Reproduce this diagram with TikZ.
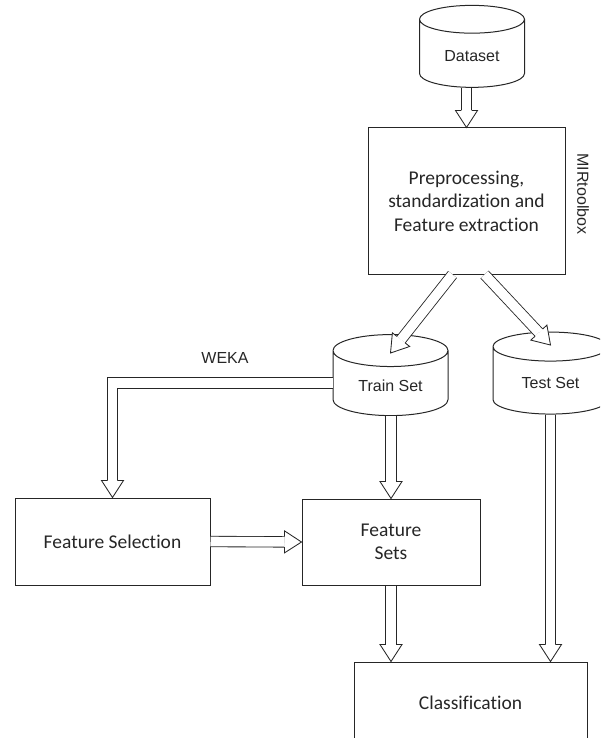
\documentclass[tikz,border=0pt]{standalone}
\usepackage{fontspec}
\setmainfont{Carlito}[Ligatures=NoCommon]
\newfontfamily\arialfont{Liberation Sans}
\usepackage{tikz}
\usetikzlibrary{shapes.geometric, positioning, calc}

% hollow block arrow: head first (#1 = point it comes from, #2 = tip)
\newcommand{\arrowhead}[2]{%
  \coordinate (hb) at ($(#2)!17pt!(#1)$);
  \fill[white] ($(hb)!5.2pt!90:(#2)$) -- ($(hb)!11pt!90:(#2)$) -- (#2) -- ($(hb)!11pt!-90:(#2)$) -- ($(hb)!5.2pt!-90:(#2)$) -- cycle;
  \draw[tipline] ($(hb)!5.2pt!90:(#2)$) -- ($(hb)!11pt!90:(#2)$) -- (#2) -- ($(hb)!11pt!-90:(#2)$) -- ($(hb)!5.2pt!-90:(#2)$);
}
\newcommand{\hollowarrow}[2]{%
  \draw[pipe] (#1) -- ($(#2)!17pt!(#1)$);
  \arrowhead{#1}{#2}
}

\begin{document}
\begin{tikzpicture}[x=1pt, y=-1pt,
    box/.style={draw=black!85, line width=1pt, rectangle, align=center,
      font=\fontsize{19.5}{23.5}\selectfont, text=black!85},
    store/.style={draw=black!85, line width=1pt, cylinder, shape border rotate=90,
      aspect=0.45, font=\arialfont\fontsize{16}{19}\selectfont, text=black!85},
    pipe/.style={draw=black!85, line width=0.85pt, double=white, double distance=9.6pt},
    tipline/.style={draw=black!85, line width=0.85pt, line join=miter}]
    \clip (0,0) rectangle (600,738);

    % Stores
    \node[store, minimum width=105pt, minimum height=82pt] (data) at (472,56) {Dataset};
    \node[store, minimum width=115pt, minimum height=81pt] (train) at (390.5,386) {Train Set};
    \node[store, minimum width=115pt, minimum height=82pt] (test) at (550.5,383) {Test Set};

    % Processing steps
    \node[box, minimum width=197pt, minimum height=146pt] (pre) at (466.5,201)
      {Preprocessing,\\ standardization and\\ Feature extraction};
    \node[box, minimum width=195pt, minimum height=87pt] (fsel) at (112.5,541.5) {Feature Selection};
    \node[box, minimum width=178pt, minimum height=86pt] (fsets) at (391,542) {Feature\\ Sets};
    \node[box, minimum width=233pt, minimum height=82pt] (cls) at (470.5,703) {Classification};

    % Tool labels
    \node[rotate=-90, font=\arialfont\fontsize{16}{19}\selectfont, text=black!85] (mir) at (583,194) {MIRtoolbox};
    \node[font=\arialfont\fontsize{16}{19}\selectfont, text=black!85] (weka) at (225,358) {WEKA};

    % Arrows
    \hollowarrow{pre.north |- data.south}{pre.north}
    \hollowarrow{[xshift=-14pt]pre.south}{[yshift=33pt]train.center}
    \hollowarrow{[xshift=18pt]pre.south}{[yshift=38pt]test.center}
    \hollowarrow{fsets.north |- train.south}{fsets.north}
    \hollowarrow{fsel.east}{fsets.west}
    \hollowarrow{fsets.south}{fsets.south |- cls.north}
    \hollowarrow{test.south}{test.south |- cls.north}
    \draw[pipe] ([yshift=3pt]train.west) -| ($(fsel.north)!17pt!([yshift=40pt]fsel.north)$);
    \arrowhead{[yshift=40pt]fsel.north}{fsel.north}
\end{tikzpicture}
\end{document}
